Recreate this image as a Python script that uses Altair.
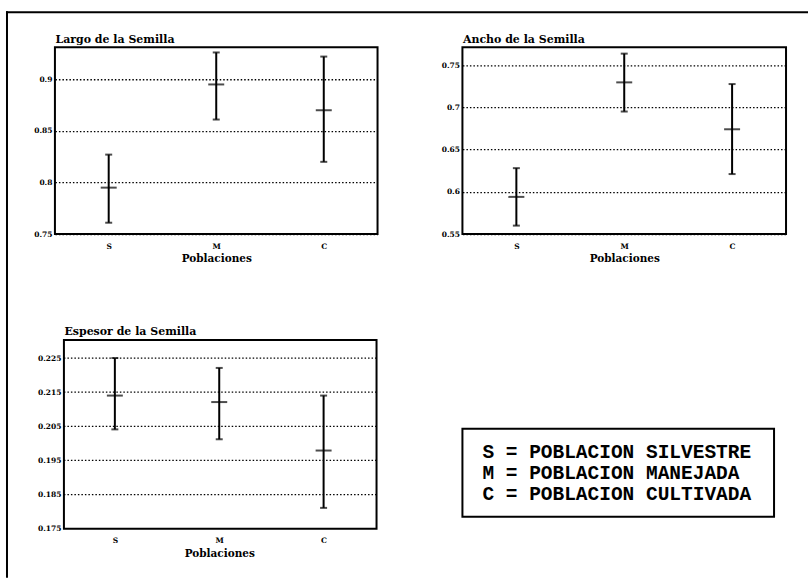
import altair as alt
import pandas as pd

# Populations on the x axis
poblaciones = ["S", "M", "C"]

# Seed length: mean and interval limits per population
largo_media = [0.795, 0.895, 0.870]
largo_inf = [0.761, 0.861, 0.820]
largo_sup = [0.827, 0.926, 0.922]

# Seed width
ancho_media = [0.594, 0.7295, 0.674]
ancho_inf = [0.560, 0.695, 0.621]
ancho_sup = [0.628, 0.7635, 0.7275]

# Seed thickness
espesor_media = [0.214, 0.2121, 0.1979]
espesor_inf = [0.2041, 0.2012, 0.1811]
espesor_sup = [0.225, 0.2221, 0.214]

# Y-axis tick values and domains
largo_ticks = [0.75, 0.8, 0.85, 0.9]
ancho_ticks = [0.55, 0.6, 0.65, 0.7, 0.75]
espesor_ticks = [0.175, 0.185, 0.195, 0.205, 0.215, 0.225]
largo_dominio = [0.75, 0.931]
ancho_dominio = [0.55, 0.771]
espesor_dominio = [0.175, 0.2303]

titulos = ["Largo de la Semilla", "Ancho de la Semilla", "Espesor de la Semilla"]
leyenda = ["S = POBLACION SILVESTRE", "M = POBLACION MANEJADA", "C = POBLACION CULTIVADA"]

FONT = "DejaVu Serif"


def panel(titulo, media, inf, sup, ticks, dominio, width, height,
          extras=(), x_scale=None, axis_offset=0, grid=True):
    df = pd.DataFrame({"pob": poblaciones, "media": media, "inf": inf, "sup": sup})
    base = alt.Chart(df)
    if x_scale is None:
        x_scale = alt.Scale(type="point", domain=poblaciones, padding=0.5)
    x = alt.X("pob:N", sort=poblaciones, scale=x_scale,
              axis=alt.Axis(title="Poblaciones", labelAngle=0))
    escala_y = alt.Scale(domain=dominio, nice=False, zero=False)
    eje_y = alt.Axis(
        values=ticks,
        labelExpr="'' + datum.value",
        labelOverlap=False,
        grid=grid,
        offset=axis_offset,
        title=titulo,
        titleAngle=0,
        titleX=0,
        titleY=-3,
        titleAlign="left",
        titleBaseline="bottom",
    )

    def y(campo):
        return alt.Y(campo, scale=escala_y, axis=eje_y)

    barra = base.mark_rule(color="black", strokeWidth=2).encode(x=x, y=y("inf:Q"), y2="sup:Q")
    tapa_inf = base.mark_tick(color="black", size=7, thickness=2).encode(x=x, y=y("inf:Q"))
    tapa_sup = base.mark_tick(color="black", size=7, thickness=2).encode(x=x, y=y("sup:Q"))
    marca_media = base.mark_tick(color="black", size=16, thickness=2).encode(x=x, y=y("media:Q"))

    capas = [c(y) for c in extras]
    return alt.layer(barra, tapa_inf, tapa_sup, marca_media, *capas).properties(
        width=width, height=height
    )


def marco(_):
    # Page frame: top edge and left edge
    uno = alt.Data(values=[{}])
    arriba = alt.Chart(uno).mark_rule(color="black", strokeWidth=2, strokeCap="square").encode(
        x=alt.value(-48), x2=alt.value(753), y=alt.value(-35)
    )
    izquierda = alt.Chart(uno).mark_rule(color="black", strokeWidth=2, strokeCap="square").encode(
        x=alt.value(-48), y=alt.value(-35), y2=alt.value(530)
    )
    return alt.layer(arriba, izquierda)


def caja_espesor(_):
    # Plot frame of the thickness panel, inset from the cell edge
    return alt.Chart(alt.Data(values=[{}])).mark_rect(
        filled=False, stroke="black", strokeWidth=2
    ).encode(x=alt.value(9), x2=alt.value(322), y=alt.value(0), y2=alt.value(189))


def rejilla_espesor(y):
    # Dotted grid lines at the thickness tick values
    return alt.Chart(pd.DataFrame({"v": espesor_ticks[1:]})).mark_rule(
        color="black", strokeWidth=1.3, strokeDash=[1.5, 2]
    ).encode(y=y("v:Q"), x=alt.value(9), x2=alt.value(322))


def clave(_):
    # Key explaining the population letters
    caja = alt.Chart(alt.Data(values=[{}])).mark_rect(
        fill="white", stroke="black", strokeWidth=2
    ).encode(x=alt.value(408), x2=alt.value(720), y=alt.value(89), y2=alt.value(177))
    texto = alt.Chart(alt.Data(values=[{"t": "\n".join(leyenda)}])).mark_text(
        align="left",
        baseline="middle",
        lineBreak="\n",
        lineHeight=21,
        font="Liberation Mono",
        fontWeight="bold",
        fontSize=19.5,
        color="black",
    ).encode(x=alt.value(428), y=alt.value(112), text="t:N")
    return alt.layer(caja, texto)


p_largo = panel(titulos[0], largo_media, largo_inf, largo_sup, largo_ticks,
                largo_dominio, 323, 187, extras=[marco])
p_ancho = panel(titulos[1], ancho_media, ancho_inf, ancho_sup, ancho_ticks,
                ancho_dominio, 324, 187)
p_espesor = panel(
    titulos[2], espesor_media, espesor_inf, espesor_sup, espesor_ticks,
    espesor_dominio, 322, 189,
    extras=[rejilla_espesor, caja_espesor, clave],
    x_scale=alt.Scale(type="point", domain=poblaciones, padding=0, range=[60, 269]),
    axis_offset=-9,
    grid=False,
).properties(view=alt.ViewBackground(stroke="transparent"))

chart = (
    alt.concat(
        p_largo, p_ancho, p_espesor,
        columns=2,
        spacing={"row": 106, "column": 85},
        bounds="flush",
    )
    .properties(padding={"left": 4, "top": 9, "right": 0, "bottom": 0}, background="white")
    .configure_view(stroke="black", strokeWidth=2)
    .configure_axis(
        labelFont=FONT,
        labelFontWeight="bold",
        labelFontSize=7.5,
        labelColor="black",
        labelPadding=3,
        titleFont=FONT,
        titleFontWeight="bold",
        titleFontSize=10.5,
        titleColor="black",
        gridColor="black",
        gridDash=[1.5, 2],
        gridWidth=1.3,
        gridOpacity=1,
        domain=False,
        ticks=False,
    )
    .configure_axisX(grid=False, labelPadding=8, titlePadding=4)
    .configure_axisY(titleFontSize=11)
)

chart.save("out.html", embed_options={"renderer": "svg", "actions": False})
